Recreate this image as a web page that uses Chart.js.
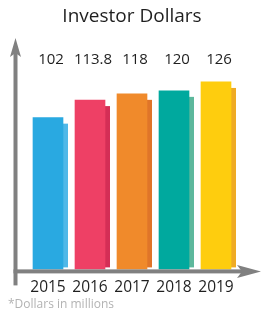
<!DOCTYPE html>
<html>
<head>
<meta charset="utf-8">
<script src="https://cdn.jsdelivr.net/npm/chart.js@4"></script>
<style>
  body { margin: 0; background: #fff; }
  #contenedor { position: relative; width: 262px; height: 309px; }
  #nota {
    position: absolute; left: 8px; top: 295px;
    font: 12px "Open Sans", sans-serif; color: #b3b3b3;
  }
</style>
</head>
<body>
<div id="contenedor">
  <canvas id="inversionChart"></canvas>
  <div id="nota">*Dollars in millions</div>
</div>
<script>
// Datos
const anios = ['2015', '2016', '2017', '2018', '2019'];
const valores = [102, 113.8, 118, 120, 126];
const etiquetasValor = ['102', '113.8', '118', '120', '126'];

// Colores de barras y de su sombra lateral
const coloresBarra = ['#29a9e1', '#ee4065', '#f08a2b', '#00a99e', '#fecd0e'];
const coloresSombra = ['#4fb8e8', '#d42e56', '#e07529', '#5db89c', '#efab24'];

const colorTexto = '#1f1f1f';
const colorEje = '#808080';

// Sombra a la derecha de cada barra
const sombraPlugin = {
  id: 'sombra',
  beforeDatasetsDraw(chart) {
    const ctx = chart.ctx;
    chart.getDatasetMeta(0).data.forEach((bar, i) => {
      const derecha = bar.x + bar.width / 2;
      ctx.fillStyle = coloresSombra[i];
      ctx.fillRect(derecha, bar.y + 6, 5, bar.base - bar.y - 8);
    });
  }
};

// Valores encima, todos a la misma altura
const valoresPlugin = {
  id: 'valores',
  afterDatasetsDraw(chart) {
    const ctx = chart.ctx;
    ctx.save();
    ctx.font = '15px "Open Sans", sans-serif';
    ctx.fillStyle = colorTexto;
    ctx.textAlign = 'center';
    ctx.textBaseline = 'middle';
    chart.getDatasetMeta(0).data.forEach((bar, i) => {
      ctx.fillText(etiquetasValor[i], bar.x + 3, 60);
    });
    ctx.restore();
  }
};

// Ejes con flecha
const flechasPlugin = {
  id: 'flechas',
  afterDraw(chart) {
    const { ctx, chartArea } = chart;
    const xEje = chartArea.left - 11.5;
    const yEje = chartArea.bottom + 2;
    ctx.save();
    ctx.fillStyle = colorEje;
    // vertical
    ctx.fillRect(xEje - 2, 50, 4, yEje + 14 - 50);
    ctx.beginPath();
    ctx.moveTo(xEje, 38);
    ctx.lineTo(xEje + 5.5, 57);
    ctx.lineTo(xEje, 53);
    ctx.lineTo(xEje - 5.5, 57);
    ctx.closePath();
    ctx.fill();
    // horizontal
    ctx.fillRect(xEje - 2, yEje - 2, 245 - xEje, 4);
    ctx.beginPath();
    ctx.moveTo(261, yEje);
    ctx.lineTo(237, yEje - 6.5);
    ctx.lineTo(242, yEje);
    ctx.lineTo(237, yEje + 6.5);
    ctx.closePath();
    ctx.fill();
    ctx.restore();
  }
};

new Chart(document.getElementById('inversionChart'), {
  type: 'bar',
  data: {
    labels: anios,
    datasets: [{
      data: valores,
      backgroundColor: coloresBarra,
      barThickness: 30
    }]
  },
  options: {
    responsive: true,
    maintainAspectRatio: false,
    animation: false,
    layout: { padding: { left: 27, right: 25, bottom: 3 } },
    plugins: {
      legend: { display: false },
      tooltip: { enabled: false },
      title: {
        display: true,
        text: 'Investor Dollars',
        color: colorTexto,
        font: { family: '"Open Sans", sans-serif', size: 19, weight: 'normal' },
        padding: { top: 5, bottom: 11 }
      }
    },
    scales: {
      x: {
        grid: { display: false, drawTicks: false },
        border: { display: false },
        ticks: {
          color: colorTexto,
          padding: 9,
          maxRotation: 0,
          autoSkip: false,
          font: { family: '"Open Sans", sans-serif', size: 15.5 }
        }
      },
      y: {
        display: false,
        min: 0,
        max: 155
      }
    }
  },
  plugins: [sombraPlugin, valoresPlugin, flechasPlugin]
});
</script>
</body>
</html>
